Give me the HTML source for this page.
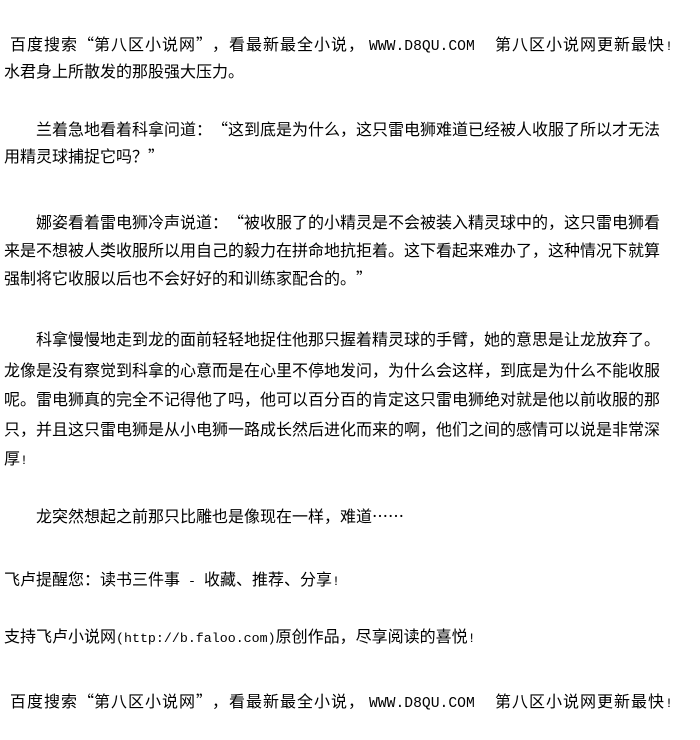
<!DOCTYPE html>
<html><head><meta charset="utf-8"><style>
html,body{margin:0;padding:0;background:#fff;}
body{width:700px;height:740px;position:relative;overflow:hidden;}
.l{position:absolute;left:4px;height:20px;line-height:20px;font-size:16px;white-space:pre;color:#000;
font-family:"SimSun","Noto Sans CJK SC","WenQuanYi Zen Hei",sans-serif;letter-spacing:0;}
.i{left:36px;}
.m{font-family:"Liberation Mono",monospace;font-size:13.3px;}
.q{display:inline-block;width:16px;}
.ql{text-align:right;}
.qr{text-align:left;}
.h1{letter-spacing:1px;}
</style></head><body>
<div class="l h1" style="left:10px;top:33px">百度搜索<span class="q ql">“</span>第八区小说网<span class="q qr">”</span>，看最新最全小说，</div>
<div class="l m" style="left:369px;top:37px;font-size:14.7px">WWW.D8QU.COM</div>
<div class="l h1" style="left:495px;top:33px">第八区小说网更新最快<span class="m">!</span></div>
<div class="l" style="top:60px">水君身上所散发的那股强大压力。</div>
<div class="l i" style="top:118px">兰着急地看着科拿问道：<span class="q ql">“</span>这到底是为什么，这只雷电狮难道已经被人收服了所以才无法</div>
<div class="l" style="top:145px">用精灵球捕捉它吗？<span class="q qr">”</span></div>
<div class="l i" style="top:211px">娜姿看着雷电狮冷声说道：<span class="q ql">“</span>被收服了的小精灵是不会被装入精灵球中的，这只雷电狮看</div>
<div class="l" style="top:239px">来是不想被人类收服所以用自己的毅力在拼命地抗拒着。这下看起来难办了，这种情况下就算</div>
<div class="l" style="top:267px">强制将它收服以后也不会好好的和训练家配合的。<span class="q qr">”</span></div>
<div class="l i" style="top:328px">科拿慢慢地走到龙的面前轻轻地捉住他那只握着精灵球的手臂，她的意思是让龙放弃了。</div>
<div class="l" style="top:359px">龙像是没有察觉到科拿的心意而是在心里不停地发问，为什么会这样，到底是为什么不能收服</div>
<div class="l" style="top:388px">呢。雷电狮真的完全不记得他了吗，他可以百分百的肯定这只雷电狮绝对就是他以前收服的那</div>
<div class="l" style="top:418px">只，并且这只雷电狮是从小电狮一路成长然后进化而来的啊，他们之间的感情可以说是非常深</div>
<div class="l" style="top:447px">厚<span class="m">!</span></div>
<div class="l i" style="top:505px">龙突然想起之前那只比雕也是像现在一样，难道……</div>
<div class="l" style="top:568px">飞卢提醒您：读书三件事<span class="m"> - </span>收藏、推荐、分享<span class="m">!</span></div>
<div class="l" style="top:625px">支持飞卢小说网<span class="m">(http://b.faloo.com)</span>原创作品，尽享阅读的喜悦<span class="m">!</span></div>
<div class="l h1" style="left:10px;top:690px">百度搜索<span class="q ql">“</span>第八区小说网<span class="q qr">”</span>，看最新最全小说，</div>
<div class="l m" style="left:369px;top:694px;font-size:14.7px">WWW.D8QU.COM</div>
<div class="l h1" style="left:495px;top:690px">第八区小说网更新最快<span class="m">!</span></div>
</body></html>
